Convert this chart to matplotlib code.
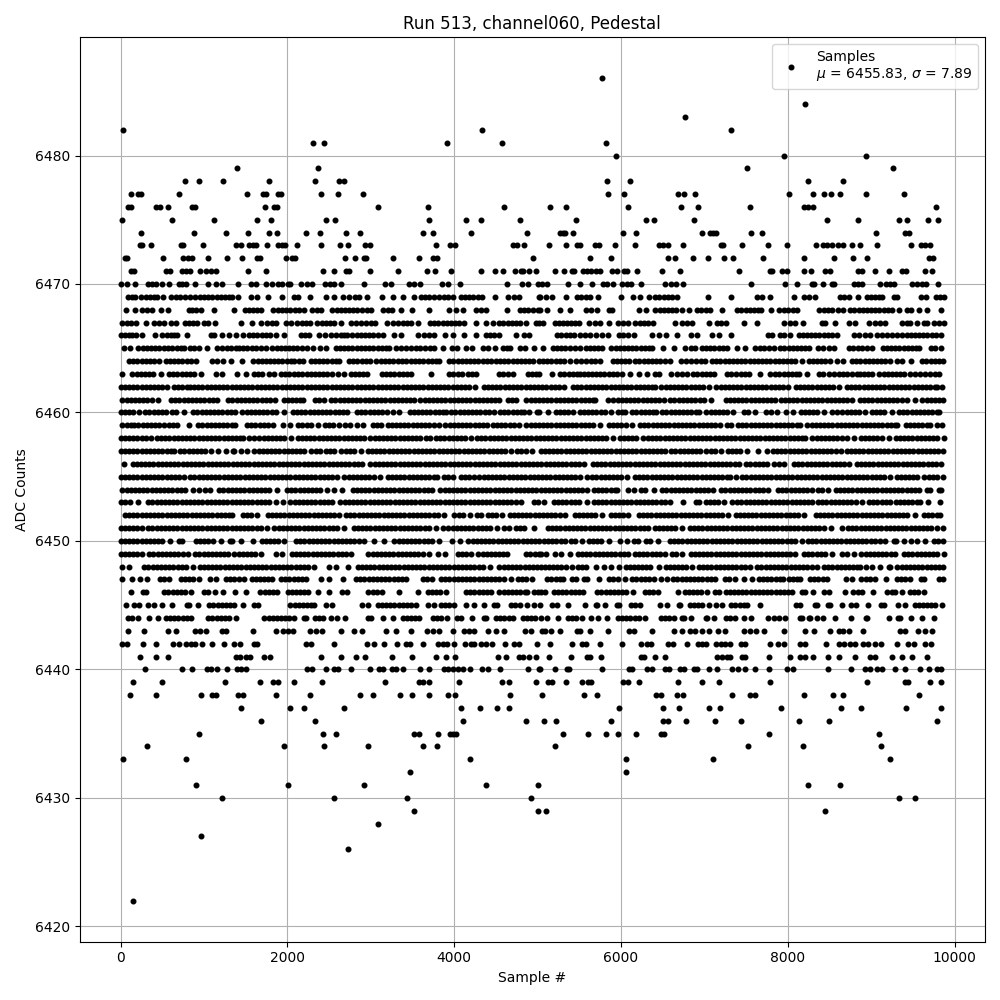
import matplotlib
matplotlib.use("Agg")
import matplotlib.pyplot as plt

# sample numbers, one list per ADC level
lvl_6486 = [5772]
lvl_6484 = [8208]
lvl_6483 = [6768]
lvl_6482 = [32, 4328, 7320]
lvl_6481 = [2312, 2444, 3908, 4568, 5820]
lvl_6480 = [5940, 7956, 8940]
lvl_6479 = [1400, 2372, 7512, 9264]
lvl_6478 = [776, 944, 1232, 1784, 2336, 2624, 2684, 5832, 6108, 8244, 8664]
lvl_6477 = [128, 212, 248, 704, 1520, 1712, 1748, 1892, 1928, 2408, 2612, 2912, 5844, 6036, 6684, 6756, 6888, 8016, 8304, 8436, 8520, 8628, 8940, 9396]
lvl_6476 = [92, 128, 428, 476, 572, 860, 896, 1736, 1844, 1880, 3080, 3680, 4592, 5148, 5340, 6084, 6720, 6924, 7548, 8196, 8244, 8304, 9780]
lvl_6475 = [20, 620, 1124, 1640, 1808, 2468, 2576, 3692, 4136, 4316, 4784, 5460, 6300, 6396, 6876, 8472, 8844, 9336, 9432, 9684, 9804]
lvl_6474 = [248, 884, 1268, 1532, 1784, 1880, 2228, 2396, 2708, 2876, 3620, 3740, 4196, 4868, 5268, 5304, 5328, 5424, 6024, 6180, 6972, 7068, 7104, 7140, 7560, 7692, 9060, 9408, 9456]
lvl_6473 = [236, 260, 368, 728, 752, 992, 1388, 1448, 1544, 1592, 1628, 1760, 1892, 1940, 1976, 2120, 2408, 2636, 2732, 2936, 2984, 3776, 3944, 4004, 4700, 4748, 4832, 5136, 5340, 5472, 5508, 5688, 5736, 5928, 6168, 6456, 6504, 6560, 6744, 7200, 7224, 7452, 7764, 7992, 8340, 8424, 8472, 8532, 8604, 8664, 8772, 8868, 9072, 9480, 9600, 9648, 9700]
lvl_6472 = [50, 80, 512, 752, 812, 860, 1052, 1280, 1460, 1640, 1676, 1988, 2052, 2088, 2696, 2816, 2924, 2948, 3260, 3572, 3740, 3788, 4944, 5628, 5880, 6564, 6648, 6864, 7044, 7236, 7344, 7704, 8196, 8556, 8784, 8952, 9696, 9744]
lvl_6471 = [128, 164, 548, 596, 740, 788, 836, 956, 1028, 1088, 1148, 1532, 1748, 2432, 2564, 2708, 2744, 2984, 3320, 3668, 3764, 3956, 4316, 4484, 4580, 4724, 4796, 4820, 4892, 4976, 5208, 5316, 5412, 5436, 5544, 5592, 5640, 5700, 5748, 5892, 5952, 6036, 6072, 6192, 6492, 6708, 7416, 7788, 7812, 7932, 7992, 8196, 8280, 8448, 8508, 8844, 8892, 9048, 9216, 9372, 9420, 9648, 9732]
lvl_6470 = [8, 80, 176, 332, 380, 428, 500, 584, 704, 740, 788, 896, 1052, 1148, 1220, 1412, 1568, 1628, 1748, 1820, 1892, 1940, 2012, 2036, 2168, 2240, 2300, 2456, 2516, 2564, 2648, 2924, 3164, 3236, 3452, 3512, 3584, 3848, 3920, 4064, 4628, 4808, 4880, 5000, 5052, 5112, 5360, 5508, 5652, 5784, 5832, 5904, 6012, 6072, 6120, 6240, 6528, 6600, 6660, 6744, 7560, 7964, 8112, 8292, 8316, 8424, 8532, 8556, 8796, 8844, 8892, 9108, 9180, 9228, 9276, 9492, 9552, 9612, 9660, 9804]
lvl_6469 = [92, 130, 172, 248, 308, 350, 400, 440, 512, 608, 668, 716, 770, 828, 896, 950, 1000, 1050, 1100, 1150, 1200, 1250, 1300, 1340, 1412, 1568, 1640, 1772, 1940, 2084, 2132, 2276, 2468, 2564, 2672, 2744, 2816, 2864, 2960, 3128, 3260, 3380, 3512, 3596, 3650, 3692, 3760, 3820, 3872, 3925, 3980, 4076, 4125, 4175, 4220, 4280, 4328, 4484, 4644, 4712, 4780, 5012, 5032, 5100, 5172, 5340, 5472, 5525, 5580, 5632, 5724, 6000, 6148, 6232, 6340, 6412, 6460, 6510, 6560, 6610, 6672, 7044, 7320, 7632, 7692, 7788, 8080, 8192, 8260, 8332, 8632, 8680, 8732, 8844, 8952, 9000, 9050, 9090, 9132, 9272, 9312, 9600, 9664, 9772, 9820, 9872]
lvl_6468 = [68, 176, 260, 320, 380, 480, 572, 820, 860, 908, 968, 1124, 1360, 1488, 1540, 1590, 1640, 1688, 1832, 1885, 1935, 1985, 2035, 2090, 2140, 2204, 2300, 2350, 2400, 2540, 2590, 2640, 2690, 2740, 2790, 2840, 2890, 2950, 3000, 3140, 3200, 3248, 3360, 3488, 3696, 3932, 4020, 4100, 4260, 4320, 4380, 4628, 4788, 4840, 4890, 4940, 5000, 5032, 5112, 5268, 5388, 5580, 5645, 5712, 5852, 5892, 6216, 6300, 6412, 6465, 6515, 6565, 6612, 6660, 6732, 6820, 6912, 6965, 7020, 7072, 7212, 7392, 7445, 7495, 7545, 7595, 7640, 7684, 7804, 7892, 7950, 8005, 8060, 8112, 8380, 8430, 8480, 8532, 8604, 8660, 8752, 8800, 8850, 8900, 8950, 9000, 9050, 9100, 9150, 9200, 9250, 9332, 9432, 9484, 9576, 9672, 9832]
lvl_6467 = [20, 70, 120, 188, 300, 400, 460, 520, 600, 660, 768, 820, 870, 920, 1000, 1052, 1136, 1448, 1580, 1680, 1760, 1820, 1868, 1980, 2040, 2120, 2170, 2220, 2268, 2360, 2410, 2460, 2510, 2560, 2640, 2760, 2820, 2880, 2940, 3000, 3052, 3188, 3260, 3320, 3380, 3430, 3480, 3560, 3708, 3760, 3810, 3860, 3910, 3960, 4010, 4060, 4120, 4260, 4376, 4460, 4540, 4590, 4640, 4690, 4740, 4788, 4860, 4976, 5012, 5068, 5204, 5255, 5305, 5355, 5405, 5450, 5492, 5612, 5692, 5752, 5852, 5964, 6025, 6084, 6172, 6225, 6275, 6330, 6380, 6648, 6732, 6790, 6852, 7052, 7152, 7205, 7260, 7476, 7632, 7960, 8025, 8092, 8184, 8412, 8452, 8568, 8732, 8812, 8980, 9052, 9110, 9172, 9372, 9425, 9472, 9552, 9632, 9672, 9752, 9812, 9872]
lvl_6466 = [0, 50, 100, 140, 180, 252, 408, 500, 550, 600, 640, 680, 800, 1080, 1120, 1220, 1300, 1388, 1472, 1540, 1590, 1640, 1690, 1740, 1790, 1860, 1964, 2160, 2210, 2260, 2380, 2450, 2520, 2580, 2640, 2680, 2720, 2780, 2830, 2880, 2930, 2980, 3030, 3085, 3140, 3272, 3356, 3560, 3640, 3695, 3752, 3884, 3980, 4120, 4260, 4380, 4430, 4480, 4540, 4736, 4840, 4900, 5232, 5285, 5335, 5385, 5435, 5512, 5564, 5632, 5700, 5772, 5844, 5972, 6030, 6090, 6152, 6372, 6460, 6540, 6672, 6844, 6912, 7092, 7172, 7324, 7764, 7812, 7912, 7952, 8028, 8132, 8180, 8230, 8280, 8330, 8380, 8430, 8480, 8530, 8592, 8792, 8860, 8925, 8992, 9072, 9130, 9190, 9250, 9312, 9372, 9425, 9475, 9525, 9575, 9625, 9675, 9725, 9772, 9840]
lvl_6465 = [40, 108, 212, 265, 315, 365, 415, 460, 520, 570, 620, 670, 720, 760, 828, 885, 940, 1040, 1160, 1215, 1270, 1325, 1380, 1420, 1470, 1520, 1570, 1620, 1680, 1740, 1820, 1870, 1920, 1970, 2020, 2070, 2120, 2180, 2240, 2308, 2385, 2460, 2580, 2630, 2680, 2730, 2780, 2830, 2880, 2930, 2980, 3030, 3080, 3130, 3180, 3220, 3300, 3360, 3420, 3480, 3540, 3595, 3650, 3705, 3760, 3860, 3972, 4028, 4140, 4212, 4340, 4400, 4488, 4588, 4630, 4668, 4788, 4852, 4952, 5068, 5180, 5230, 5280, 5330, 5392, 5452, 5512, 5580, 5630, 5680, 5730, 5772, 5884, 5935, 5985, 6035, 6085, 6135, 6185, 6235, 6285, 6335, 6372, 6500, 6632, 6772, 6835, 6892, 6972, 7020, 7070, 7120, 7170, 7220, 7272, 7392, 7484, 7612, 7665, 7720, 7775, 7832, 7912, 7960, 8010, 8060, 8110, 8160, 8205, 8252, 8364, 8425, 8490, 8552, 8732, 8785, 8840, 8895, 8950, 9012, 9140, 9190, 9240, 9290, 9340, 9390, 9440, 9490, 9540, 9572, 9712, 9770, 9832]
lvl_6464 = [100, 150, 200, 250, 300, 350, 400, 460, 540, 590, 640, 690, 740, 790, 840, 908, 1100, 1160, 1228, 1320, 1460, 1588, 1645, 1700, 1740, 1790, 1840, 1890, 1940, 1990, 2040, 2080, 2140, 2188, 2280, 2330, 2380, 2430, 2480, 2530, 2580, 2620, 2740, 2790, 2840, 2890, 2940, 2990, 3060, 3120, 3170, 3220, 3270, 3320, 3370, 3420, 3480, 3530, 3580, 3630, 3680, 3730, 3780, 3820, 3940, 3990, 4040, 4090, 4140, 4190, 4240, 4290, 4340, 4390, 4440, 4500, 4550, 4600, 4650, 4700, 4750, 4800, 4850, 4900, 4950, 5020, 5065, 5115, 5165, 5215, 5265, 5315, 5392, 5460, 5520, 5580, 5640, 5692, 5752, 5900, 5950, 6000, 6050, 6100, 6172, 6222, 6272, 6322, 6372, 6422, 6472, 6522, 6592, 6724, 6780, 6840, 6900, 6960, 7012, 7092, 7142, 7192, 7242, 7292, 7342, 7392, 7442, 7492, 7542, 7592, 7642, 7692, 7742, 7792, 7842, 7892, 7942, 7992, 8042, 8092, 8172, 8252, 8302, 8352, 8402, 8452, 8502, 8592, 8660, 8772, 8822, 8872, 8922, 8972, 9022, 9072, 9122, 9172, 9222, 9312, 9372, 9484, 9612, 9662, 9712, 9762, 9812, 9860]
lvl_6463 = [20, 140, 190, 240, 290, 340, 390, 480, 580, 630, 680, 730, 780, 830, 880, 968, 1148, 1220, 1400, 1508, 1600, 1650, 1700, 1780, 1844, 1920, 1970, 2020, 2080, 2130, 2180, 2230, 2280, 2330, 2380, 2430, 2480, 2540, 2608, 2680, 2760, 2810, 2860, 2910, 2960, 3132, 3182, 3232, 3282, 3332, 3382, 3432, 3480, 3716, 3940, 3990, 4040, 4090, 4160, 4212, 4260, 4540, 4590, 4640, 4700, 4880, 4930, 4980, 5020, 5172, 5272, 5322, 5372, 5422, 5472, 5512, 5552, 5602, 5652, 5702, 5752, 5802, 5852, 5902, 5952, 6012, 6112, 6212, 6312, 6412, 6452, 6600, 6672, 6735, 6792, 6860, 6912, 6972, 7020, 7070, 7112, 7272, 7325, 7380, 7435, 7490, 7532, 7672, 7792, 7850, 7900, 7950, 8000, 8050, 8100, 8132, 8232, 8372, 8425, 8490, 8552, 8612, 8665, 8715, 8770, 8825, 8872, 8912, 8960, 9012, 9092, 9150, 9200, 9250, 9300, 9350, 9392, 9472, 9530, 9592, 9652, 9705, 9760, 9812]
lvl_6462 = [0, 50, 100, 150, 200, 250, 300, 350, 400, 450, 500, 555, 640, 690, 740, 790, 830, 880, 930, 980, 1030, 1080, 1130, 1180, 1230, 1280, 1330, 1380, 1430, 1480, 1530, 1580, 1630, 1680, 1730, 1780, 1830, 1880, 1930, 1980, 2030, 2080, 2130, 2180, 2230, 2280, 2330, 2380, 2430, 2480, 2530, 2580, 2630, 2680, 2730, 2780, 2830, 2880, 2930, 2980, 3030, 3080, 3130, 3180, 3230, 3280, 3330, 3380, 3430, 3480, 3530, 3580, 3630, 3680, 3730, 3780, 3830, 3880, 3930, 3980, 4030, 4080, 4130, 4180, 4250, 4355, 4405, 4455, 4505, 4555, 4605, 4655, 4705, 4755, 4805, 4855, 4905, 4955, 5005, 5055, 5105, 5155, 5205, 5255, 5320, 5425, 5475, 5525, 5575, 5625, 5675, 5725, 5775, 5825, 5875, 5925, 5975, 6025, 6075, 6125, 6175, 6225, 6275, 6325, 6375, 6410, 6485, 6535, 6585, 6635, 6685, 6735, 6785, 6835, 6885, 6935, 6985, 7060, 7145, 7195, 7245, 7295, 7345, 7395, 7445, 7495, 7545, 7595, 7645, 7695, 7745, 7795, 7845, 7895, 7945, 8005, 8095, 8145, 8195, 8245, 8295, 8345, 8395, 8445, 8495, 8545, 8610, 8710, 8760, 8810, 8860, 8910, 8960, 9010, 9060, 9110, 9160, 9210, 9260, 9310, 9360, 9410, 9460, 9510, 9560, 9610, 9660, 9710, 9760, 9790, 9852]
lvl_6461 = [20, 70, 120, 170, 220, 270, 320, 370, 445, 605, 655, 705, 755, 805, 855, 905, 955, 1005, 1055, 1105, 1155, 1290, 1340, 1390, 1440, 1490, 1540, 1590, 1640, 1690, 1740, 1790, 1855, 1955, 2005, 2055, 2105, 2155, 2190, 2325, 2375, 2435, 2525, 2575, 2625, 2675, 2725, 2775, 2825, 2875, 2925, 2975, 3025, 3075, 3125, 3175, 3225, 3275, 3325, 3375, 3425, 3475, 3515, 3595, 3645, 3695, 3745, 3795, 3845, 3895, 3945, 3995, 4045, 4095, 4145, 4195, 4245, 4295, 4345, 4395, 4445, 4495, 4535, 4645, 4695, 4735, 4865, 4915, 4965, 5015, 5065, 5115, 5165, 5215, 5265, 5315, 5365, 5415, 5465, 5515, 5565, 5615, 5665, 5690, 5845, 5905, 5960, 6010, 6060, 6110, 6160, 6210, 6260, 6310, 6360, 6410, 6460, 6510, 6590, 6640, 6690, 6740, 6790, 6840, 6890, 6950, 6995, 7076, 7255, 7305, 7355, 7405, 7455, 7505, 7555, 7605, 7655, 7705, 7755, 7805, 7850, 7915, 7965, 8015, 8065, 8115, 8165, 8215, 8265, 8315, 8365, 8415, 8465, 8515, 8565, 8615, 8665, 8715, 8770, 8865, 8915, 8965, 9015, 9065, 9115, 9165, 9215, 9265, 9315, 9365, 9430, 9532, 9615, 9665, 9715, 9765, 9810, 9864]
lvl_6460 = [0, 50, 100, 150, 215, 295, 345, 395, 445, 495, 545, 615, 668, 764, 870, 920, 970, 1020, 1070, 1120, 1170, 1220, 1270, 1320, 1375, 1460, 1510, 1560, 1610, 1660, 1710, 1760, 1810, 1860, 1955, 2065, 2115, 2165, 2215, 2265, 2315, 2365, 2415, 2465, 2515, 2565, 2615, 2665, 2715, 2835, 2885, 2935, 2985, 3035, 3085, 3135, 3195, 3260, 3332, 3465, 3515, 3565, 3615, 3665, 3715, 3765, 3815, 3865, 3900, 3965, 4015, 4065, 4115, 4165, 4215, 4265, 4315, 4365, 4415, 4475, 4550, 4600, 4650, 4700, 4750, 4800, 4835, 4892, 4995, 5015, 5130, 5215, 5265, 5315, 5365, 5430, 5505, 5555, 5605, 5655, 5705, 5755, 5810, 5880, 5965, 6010, 6050, 6135, 6185, 6235, 6285, 6335, 6385, 6418, 6495, 6545, 6595, 6645, 6695, 6745, 6795, 6845, 6895, 6940, 7025, 7075, 7125, 7175, 7225, 7275, 7340, 7475, 7525, 7610, 7745, 7795, 7870, 7975, 8060, 8155, 8205, 8255, 8305, 8355, 8438, 8525, 8590, 8655, 8705, 8755, 8805, 8855, 8930, 9005, 9055, 9105, 9155, 9250, 9335, 9385, 9435, 9485, 9535, 9585, 9635, 9685, 9735, 9785, 9810]
lvl_6459 = [20, 70, 120, 160, 212, 265, 315, 365, 415, 465, 515, 575, 628, 680, 820, 930, 980, 1030, 1080, 1130, 1180, 1230, 1280, 1330, 1365, 1515, 1565, 1615, 1665, 1715, 1765, 1830, 1945, 2035, 2130, 2180, 2230, 2280, 2365, 2445, 2495, 2545, 2615, 2695, 2745, 2838, 2905, 3020, 3070, 3125, 3200, 3250, 3300, 3350, 3400, 3450, 3500, 3550, 3600, 3650, 3700, 3758, 3812, 3895, 3945, 3995, 4045, 4095, 4145, 4195, 4245, 4295, 4345, 4390, 4465, 4515, 4565, 4615, 4665, 4715, 4775, 4865, 4915, 4965, 5015, 5065, 5115, 5165, 5215, 5265, 5315, 5365, 5415, 5465, 5515, 5565, 5615, 5665, 5750, 5855, 5905, 5955, 6005, 6055, 6130, 6230, 6280, 6330, 6380, 6430, 6480, 6530, 6580, 6630, 6680, 6730, 6780, 6830, 6880, 6930, 6980, 7030, 7080, 7130, 7190, 7275, 7318, 7405, 7455, 7505, 7555, 7605, 7655, 7705, 7755, 7805, 7855, 7905, 7955, 8005, 8055, 8105, 8150, 8235, 8285, 8335, 8385, 8435, 8485, 8535, 8585, 8635, 8685, 8735, 8785, 8835, 8885, 8935, 8985, 9035, 9085, 9135, 9185, 9235, 9285, 9310, 9415, 9465, 9515, 9565, 9615, 9665, 9710, 9795, 9850]
lvl_6458 = [0, 50, 100, 150, 200, 250, 300, 358, 435, 485, 535, 585, 635, 685, 735, 785, 835, 885, 935, 985, 1035, 1085, 1135, 1185, 1235, 1285, 1335, 1385, 1435, 1470, 1535, 1598, 1663, 1713, 1763, 1813, 1863, 1913, 1963, 2038, 2123, 2173, 2223, 2273, 2323, 2373, 2423, 2473, 2523, 2573, 2623, 2673, 2723, 2773, 2823, 2873, 2918, 2995, 3045, 3095, 3145, 3195, 3245, 3295, 3345, 3395, 3445, 3495, 3545, 3595, 3658, 3708, 3783, 3833, 3883, 3933, 3983, 4033, 4083, 4133, 4198, 4275, 4325, 4375, 4425, 4475, 4525, 4575, 4625, 4675, 4725, 4775, 4825, 4875, 4925, 4975, 5025, 5075, 5125, 5175, 5225, 5275, 5325, 5375, 5425, 5475, 5525, 5575, 5625, 5675, 5725, 5775, 5825, 5900, 5985, 6035, 6085, 6135, 6185, 6262, 6322, 6372, 6422, 6472, 6522, 6572, 6622, 6672, 6722, 6772, 6822, 6872, 6922, 6972, 7022, 7072, 7122, 7172, 7222, 7272, 7322, 7372, 7422, 7472, 7522, 7572, 7622, 7672, 7722, 7772, 7822, 7872, 7922, 7972, 8022, 8072, 8122, 8172, 8210, 8295, 8345, 8395, 8445, 8495, 8545, 8595, 8645, 8710, 8796, 8875, 8925, 8975, 9025, 9075, 9125, 9210, 9295, 9345, 9395, 9445, 9495, 9545, 9595, 9645, 9695, 9745, 9795, 9868]
lvl_6457 = [0, 50, 100, 150, 200, 250, 300, 350, 400, 450, 500, 550, 600, 638, 715, 765, 815, 865, 915, 965, 1015, 1078, 1170, 1258, 1343, 1358, 1443, 1518, 1603, 1653, 1703, 1753, 1803, 1853, 1903, 1953, 2003, 2053, 2103, 2153, 2203, 2278, 2343, 2390, 2463, 2513, 2563, 2638, 2703, 2753, 2803, 2878, 2963, 3013, 3063, 3113, 3163, 3213, 3263, 3313, 3363, 3413, 3463, 3513, 3563, 3613, 3663, 3713, 3763, 3813, 3863, 3913, 3963, 4013, 4063, 4113, 4163, 4213, 4263, 4313, 4363, 4413, 4463, 4513, 4563, 4613, 4678, 4755, 4805, 4855, 4935, 5035, 5085, 5135, 5185, 5235, 5285, 5335, 5385, 5435, 5485, 5535, 5585, 5635, 5685, 5735, 5785, 5835, 5885, 5935, 5985, 6035, 6085, 6135, 6185, 6235, 6285, 6335, 6385, 6435, 6485, 6530, 6603, 6653, 6703, 6753, 6803, 6853, 6903, 6950, 7020, 7083, 7133, 7198, 7283, 7333, 7383, 7433, 7510, 7643, 7750, 7823, 7873, 7923, 7973, 8023, 8073, 8123, 8173, 8223, 8273, 8323, 8373, 8423, 8473, 8523, 8573, 8638, 8707, 8757, 8807, 8857, 8907, 8957, 9007, 9057, 9107, 9157, 9207, 9257, 9307, 9357, 9407, 9457, 9507, 9557, 9607, 9657, 9707, 9757, 9807, 9862]
lvl_6456 = [40, 143, 193, 243, 293, 343, 393, 443, 493, 543, 593, 643, 693, 743, 793, 843, 893, 943, 993, 1043, 1093, 1143, 1193, 1243, 1293, 1343, 1393, 1443, 1493, 1543, 1593, 1643, 1693, 1743, 1793, 1843, 1893, 1943, 1993, 2043, 2093, 2143, 2193, 2243, 2293, 2343, 2393, 2443, 2493, 2543, 2593, 2643, 2693, 2743, 2793, 2843, 2898, 2995, 3045, 3095, 3145, 3195, 3245, 3295, 3345, 3395, 3445, 3495, 3545, 3595, 3645, 3695, 3745, 3795, 3845, 3895, 3945, 3995, 4045, 4095, 4145, 4195, 4245, 4295, 4345, 4395, 4445, 4495, 4545, 4595, 4645, 4695, 4745, 4795, 4845, 4895, 4945, 4995, 5045, 5095, 5145, 5195, 5245, 5295, 5345, 5395, 5445, 5495, 5558, 5663, 5713, 5763, 5813, 5863, 5913, 5963, 6013, 6063, 6113, 6163, 6213, 6263, 6313, 6363, 6413, 6463, 6513, 6563, 6613, 6663, 6713, 6763, 6813, 6863, 6913, 6963, 7013, 7063, 7113, 7163, 7213, 7263, 7313, 7363, 7420, 7503, 7553, 7603, 7653, 7703, 7753, 7830, 7900, 7960, 8075, 8125, 8175, 8225, 8275, 8325, 8375, 8425, 8475, 8525, 8575, 8625, 8675, 8730, 8827, 8877, 8927, 8977, 9027, 9077, 9127, 9177, 9227, 9277, 9327, 9377, 9427, 9477, 9527, 9577, 9627, 9677, 9727, 9777, 9837]
lvl_6455 = [0, 50, 100, 150, 200, 250, 300, 350, 400, 450, 500, 550, 600, 650, 700, 765, 835, 885, 935, 985, 1035, 1085, 1135, 1185, 1235, 1285, 1335, 1385, 1435, 1485, 1535, 1585, 1635, 1685, 1735, 1785, 1835, 1885, 1935, 1985, 2035, 2085, 2135, 2185, 2235, 2285, 2335, 2385, 2435, 2485, 2535, 2598, 2683, 2733, 2783, 2833, 2883, 2933, 2983, 3033, 3108, 3203, 3253, 3303, 3353, 3403, 3453, 3503, 3553, 3603, 3653, 3703, 3753, 3798, 3875, 3925, 3990, 4083, 4133, 4183, 4238, 4303, 4353, 4403, 4453, 4503, 4553, 4603, 4653, 4703, 4753, 4803, 4853, 4903, 4953, 5003, 5053, 5103, 5153, 5203, 5253, 5303, 5353, 5403, 5453, 5510, 5592, 5655, 5705, 5755, 5805, 5855, 5905, 5955, 6005, 6078, 6167, 6217, 6267, 6317, 6367, 6417, 6467, 6517, 6567, 6617, 6667, 6717, 6767, 6817, 6867, 6917, 6967, 7017, 7067, 7117, 7167, 7217, 7267, 7310, 7380, 7455, 7505, 7555, 7605, 7655, 7705, 7755, 7805, 7855, 7905, 7955, 8005, 8055, 8105, 8155, 8205, 8255, 8305, 8355, 8405, 8455, 8505, 8555, 8605, 8655, 8705, 8755, 8805, 8855, 8905, 8955, 9005, 9055, 9105, 9155, 9230, 9307, 9357, 9407, 9457, 9507, 9550, 9632, 9695, 9745, 9795, 9862]
lvl_6454 = [20, 70, 120, 170, 220, 270, 320, 370, 420, 470, 520, 570, 620, 670, 720, 770, 870, 940, 1012, 1070, 1183, 1233, 1283, 1333, 1383, 1433, 1483, 1533, 1583, 1633, 1683, 1733, 1783, 1878, 1995, 2045, 2095, 2145, 2195, 2245, 2295, 2345, 2395, 2478, 2563, 2658, 2783, 2833, 2883, 2933, 2983, 3033, 3083, 3133, 3183, 3233, 3283, 3333, 3383, 3433, 3483, 3533, 3583, 3633, 3683, 3738, 3835, 3885, 3935, 3985, 4035, 4085, 4135, 4185, 4235, 4285, 4335, 4385, 4435, 4485, 4535, 4585, 4635, 4685, 4735, 4785, 4835, 4885, 4935, 4985, 5035, 5085, 5135, 5185, 5235, 5285, 5335, 5385, 5435, 5485, 5535, 5590, 5675, 5725, 5775, 5825, 5875, 5925, 5958, 6083, 6158, 6243, 6293, 6398, 6495, 6545, 6595, 6645, 6695, 6745, 6795, 6845, 6895, 6945, 6995, 7045, 7102, 7203, 7253, 7303, 7353, 7403, 7453, 7503, 7553, 7603, 7653, 7703, 7758, 7883, 7933, 7983, 8033, 8083, 8133, 8183, 8233, 8290, 8363, 8413, 8478, 8575, 8625, 8675, 8725, 8775, 8825, 8875, 8925, 8975, 9025, 9075, 9125, 9175, 9225, 9275, 9325, 9375, 9425, 9475, 9525, 9570, 9675, 9710, 9815, 9838]
lvl_6453 = [0, 50, 110, 212, 330, 380, 430, 480, 530, 580, 630, 680, 730, 780, 830, 880, 930, 980, 1030, 1080, 1130, 1180, 1230, 1280, 1330, 1380, 1430, 1480, 1530, 1580, 1630, 1680, 1730, 1780, 1858, 1952, 2035, 2085, 2135, 2185, 2235, 2285, 2335, 2385, 2435, 2485, 2538, 2635, 2685, 2735, 2785, 2835, 2885, 2935, 2985, 3035, 3085, 3135, 3185, 3235, 3285, 3335, 3385, 3435, 3485, 3535, 3585, 3635, 3685, 3735, 3785, 3835, 3885, 3935, 3985, 4035, 4085, 4135, 4185, 4235, 4285, 4335, 4385, 4435, 4485, 4535, 4585, 4635, 4685, 4735, 4798, 4955, 5000, 5078, 5195, 5245, 5295, 5345, 5395, 5445, 5495, 5590, 5675, 5725, 5775, 5825, 5875, 5925, 5975, 6025, 6075, 6125, 6175, 6225, 6275, 6325, 6375, 6425, 6475, 6525, 6590, 6740, 6895, 6930, 7015, 7065, 7115, 7165, 7230, 7332, 7395, 7445, 7495, 7545, 7595, 7645, 7695, 7745, 7795, 7845, 7895, 7945, 7995, 8045, 8095, 8145, 8195, 8245, 8290, 8363, 8413, 8463, 8513, 8563, 8613, 8663, 8713, 8763, 8813, 8890, 8975, 9025, 9075, 9125, 9175, 9230, 9295, 9345, 9395, 9445, 9495, 9545, 9590, 9684, 9828]
lvl_6452 = [50, 100, 150, 200, 250, 300, 350, 400, 450, 500, 550, 600, 650, 700, 750, 800, 850, 900, 950, 1000, 1050, 1100, 1150, 1200, 1250, 1300, 1338, 1463, 1513, 1563, 1630, 1763, 1813, 1863, 1913, 1963, 2013, 2063, 2113, 2163, 2213, 2263, 2313, 2363, 2413, 2463, 2513, 2563, 2618, 2703, 2753, 2803, 2853, 2903, 2953, 3003, 3053, 3103, 3153, 3203, 3253, 3303, 3353, 3403, 3453, 3503, 3553, 3603, 3653, 3703, 3753, 3803, 3878, 4003, 4053, 4103, 4190, 4275, 4318, 4403, 4453, 4503, 4578, 4663, 4713, 4763, 4813, 4863, 4913, 4963, 5013, 5063, 5113, 5163, 5213, 5263, 5330, 5443, 5493, 5543, 5593, 5643, 5693, 5770, 5875, 5925, 5975, 6025, 6090, 6215, 6265, 6315, 6365, 6415, 6465, 6515, 6565, 6615, 6665, 6715, 6765, 6815, 6865, 6915, 6965, 7015, 7065, 7115, 7165, 7215, 7278, 7375, 7425, 7475, 7525, 7575, 7625, 7675, 7725, 7775, 7825, 7875, 7925, 7975, 8025, 8075, 8125, 8190, 8335, 8385, 8435, 8485, 8535, 8585, 8635, 8685, 8735, 8785, 8835, 8885, 8935, 8985, 9035, 9085, 9135, 9185, 9235, 9285, 9335, 9385, 9435, 9530, 9635, 9685, 9735, 9785, 9830]
lvl_6451 = [0, 50, 100, 150, 200, 258, 330, 380, 430, 480, 530, 580, 630, 680, 730, 780, 830, 880, 930, 980, 1030, 1080, 1130, 1180, 1230, 1280, 1330, 1380, 1430, 1480, 1530, 1580, 1630, 1680, 1758, 1843, 1893, 1943, 1993, 2043, 2093, 2143, 2193, 2243, 2293, 2343, 2393, 2443, 2493, 2543, 2593, 2678, 2795, 2845, 2895, 2945, 2995, 3045, 3095, 3145, 3195, 3245, 3295, 3345, 3395, 3445, 3495, 3545, 3595, 3645, 3695, 3778, 3860, 3930, 3980, 4030, 4080, 4130, 4180, 4230, 4280, 4330, 4380, 4430, 4518, 4595, 4658, 4735, 4785, 4835, 4958, 5123, 5173, 5223, 5273, 5323, 5373, 5423, 5473, 5523, 5573, 5623, 5673, 5723, 5773, 5823, 5873, 5923, 5973, 6023, 6073, 6123, 6173, 6223, 6273, 6330, 6403, 6453, 6503, 6553, 6603, 6653, 6730, 6827, 6877, 6927, 6977, 7027, 7077, 7127, 7177, 7227, 7277, 7327, 7377, 7427, 7477, 7527, 7577, 7627, 7677, 7727, 7777, 7827, 7877, 7927, 7977, 8027, 8077, 8127, 8177, 8227, 8277, 8327, 8377, 8430, 8523, 8650, 8723, 8773, 8823, 8873, 8923, 8973, 9023, 9073, 9123, 9173, 9223, 9273, 9323, 9373, 9423, 9473, 9523, 9573, 9623, 9673, 9723, 9790, 9860]
lvl_6450 = [0, 50, 100, 150, 200, 250, 300, 350, 400, 450, 500, 590, 703, 738, 903, 953, 1003, 1053, 1103, 1198, 1315, 1338, 1440, 1588, 1690, 1740, 1790, 1840, 1890, 1958, 2103, 2153, 2203, 2253, 2303, 2353, 2403, 2453, 2503, 2553, 2603, 2653, 2703, 2753, 2803, 2853, 2918, 3043, 3158, 3283, 3333, 3383, 3433, 3483, 3533, 3583, 3633, 3683, 3733, 3818, 3972, 4068, 4170, 4220, 4270, 4320, 4370, 4420, 4470, 4520, 4570, 4620, 4670, 4720, 4770, 4820, 4870, 4920, 4970, 5012, 5075, 5125, 5175, 5225, 5275, 5330, 5403, 5453, 5530, 5615, 5665, 5715, 5765, 5862, 5987, 6070, 6155, 6210, 6295, 6345, 6438, 6587, 6637, 6687, 6737, 6787, 6837, 6887, 6937, 6987, 7037, 7087, 7137, 7187, 7237, 7287, 7337, 7387, 7437, 7487, 7537, 7587, 7637, 7687, 7737, 7787, 7837, 7887, 7937, 7987, 8037, 8087, 8170, 8243, 8293, 8343, 8393, 8443, 8493, 8543, 8593, 8643, 8693, 8743, 8793, 8843, 8893, 8943, 8993, 9043, 9110, 9172, 9275, 9302, 9392, 9484, 9552, 9644, 9755, 9805, 9862]
lvl_6449 = [0, 50, 100, 150, 200, 258, 343, 393, 443, 493, 543, 593, 643, 693, 743, 806, 895, 945, 995, 1045, 1095, 1145, 1195, 1245, 1286, 1363, 1413, 1463, 1513, 1563, 1613, 1678, 1860, 1940, 2051, 2101, 2151, 2201, 2251, 2301, 2351, 2401, 2451, 2501, 2551, 2601, 2651, 2701, 2758, 2971, 3021, 3071, 3121, 3171, 3221, 3271, 3321, 3371, 3421, 3471, 3521, 3571, 3621, 3698, 3803, 3886, 4043, 4093, 4143, 4198, 4291, 4341, 4391, 4441, 4491, 4541, 4591, 4630, 4863, 4913, 4963, 5013, 5035, 5102, 5212, 5284, 5392, 5483, 5533, 5583, 5633, 5683, 5733, 5783, 5833, 5883, 5933, 5983, 6033, 6090, 6167, 6217, 6267, 6317, 6367, 6417, 6467, 6530, 6615, 6665, 6730, 6835, 6885, 6935, 6985, 7035, 7085, 7135, 7185, 7235, 7285, 7335, 7385, 7435, 7485, 7535, 7585, 7635, 7685, 7735, 7785, 7835, 7885, 7935, 7985, 8030, 8092, 8195, 8245, 8295, 8345, 8395, 8445, 8530, 8655, 8705, 8790, 8883, 8933, 8983, 9033, 9083, 9133, 9183, 9233, 9290, 9395, 9445, 9495, 9545, 9595, 9645, 9695, 9745, 9795, 9870]
lvl_6448 = [20, 100, 283, 333, 383, 433, 483, 533, 583, 633, 683, 733, 783, 870, 947, 997, 1047, 1097, 1147, 1197, 1247, 1297, 1347, 1397, 1447, 1497, 1547, 1597, 1647, 1697, 1747, 1797, 1847, 1897, 1947, 1997, 2047, 2097, 2147, 2197, 2247, 2318, 2500, 2588, 2732, 2843, 2893, 2943, 2993, 3043, 3093, 3143, 3193, 3243, 3293, 3343, 3393, 3443, 3493, 3543, 3593, 3643, 3693, 3743, 3793, 3843, 3893, 3943, 3993, 4043, 4093, 4143, 4193, 4243, 4293, 4343, 4430, 4543, 4593, 4643, 4693, 4743, 4793, 4843, 4893, 4943, 4993, 5035, 5085, 5135, 5185, 5235, 5285, 5335, 5410, 5483, 5533, 5583, 5702, 5792, 5883, 5982, 6055, 6105, 6155, 6205, 6255, 6305, 6350, 6450, 6535, 6585, 6635, 6685, 6735, 6785, 6850, 6935, 6985, 7035, 7085, 7135, 7185, 7235, 7285, 7335, 7385, 7435, 7485, 7550, 7635, 7685, 7735, 7785, 7835, 7885, 7935, 7985, 8035, 8085, 8135, 8185, 8235, 8285, 8350, 8435, 8485, 8535, 8585, 8635, 8685, 8735, 8785, 8835, 8870, 8940, 9015, 9110, 9215, 9230, 9315, 9365, 9415, 9465, 9515, 9565, 9615, 9665, 9715, 9765, 9815, 9862]
lvl_6447 = [20, 132, 228, 320, 475, 525, 578, 723, 773, 823, 873, 938, 1075, 1138, 1263, 1313, 1363, 1413, 1478, 1571, 1621, 1671, 1721, 1771, 1818, 1923, 1973, 2023, 2073, 2123, 2173, 2218, 2403, 2498, 2668, 2823, 2873, 2923, 2973, 3023, 3073, 3123, 3173, 3223, 3273, 3323, 3373, 3418, 3623, 3673, 3738, 3843, 3893, 3943, 3993, 4043, 4093, 4143, 4193, 4243, 4293, 4343, 4393, 4443, 4493, 4543, 4593, 4678, 4763, 4813, 4858, 4932, 5115, 5165, 5215, 5265, 5310, 5415, 5462, 5555, 5590, 5740, 5855, 5905, 5970, 6052, 6135, 6185, 6235, 6285, 6335, 6390, 6483, 6550, 6627, 6677, 6727, 6777, 6827, 6877, 6927, 6977, 7027, 7077, 7130, 7243, 7293, 7370, 7472, 7572, 7655, 7705, 7755, 7805, 7855, 7905, 7942, 8015, 8065, 8115, 8150, 8267, 8317, 8367, 8417, 8470, 8695, 8770, 8883, 8933, 8983, 9050, 9180, 9307, 9357, 9407, 9470, 9595, 9638, 9815, 9862]
lvl_6446 = [120, 263, 298, 523, 573, 623, 673, 723, 773, 838, 1003, 1053, 1126, 1228, 1372, 1500, 1675, 1725, 1775, 1825, 1878, 2003, 2053, 2103, 2153, 2203, 2246, 2372, 2500, 2651, 2718, 2971, 3021, 3071, 3138, 3340, 3560, 3683, 3733, 3783, 3833, 3898, 4143, 4193, 4243, 4293, 4343, 4393, 4438, 4543, 4593, 4643, 4693, 4743, 4793, 4843, 4878, 4960, 5010, 5035, 5090, 5195, 5245, 5295, 5345, 5395, 5445, 5495, 5550, 5715, 5765, 5815, 5865, 5915, 5965, 6015, 6065, 6150, 6283, 6333, 6383, 6438, 6684, 6763, 6813, 6863, 6913, 6963, 7030, 7123, 7170, 7255, 7305, 7355, 7405, 7455, 7505, 7555, 7605, 7655, 7705, 7755, 7805, 7855, 7905, 7955, 8005, 8050, 8172, 8212, 8300, 8435, 8490, 8692, 8787, 8837, 8890, 9020, 9195, 9245, 9290, 9372, 9467, 9517, 9567, 9630]
lvl_6445 = [68, 163, 218, 323, 398, 492, 620, 795, 818, 930, 1063, 1113, 1163, 1213, 1263, 1313, 1358, 1468, 1603, 1646, 2035, 2085, 2135, 2185, 2235, 2285, 2318, 2460, 2540, 2900, 2972, 3083, 3133, 3183, 3233, 3283, 3333, 3383, 3433, 3483, 3538, 3680, 3752, 3843, 3893, 3943, 3998, 4143, 4238, 4352, 4483, 4518, 4683, 4733, 4783, 4878, 4960, 5032, 5172, 5232, 5364, 5572, 5695, 5710, 5804, 5955, 5982, 6123, 6173, 6230, 6468, 6552, 6695, 6710, 6823, 6873, 6923, 6970, 7060, 7135, 7210, 7323, 7373, 7423, 7473, 7510, 7668, 8095, 8150, 8323, 8350, 8483, 8510, 8652, 8755, 8822, 8964, 9115, 9150, 9323, 9410, 9523, 9573, 9623, 9673, 9723, 9770, 9852]
lvl_6444 = [90, 130, 212, 344, 452, 543, 593, 643, 693, 743, 793, 838, 1051, 1101, 1151, 1201, 1251, 1301, 1378, 1723, 1773, 1823, 1873, 1923, 1973, 2023, 2078, 2203, 2218, 2331, 2381, 2430, 2520, 2600, 2688, 2963, 3006, 3140, 3260, 3383, 3433, 3483, 3533, 3578, 3743, 3793, 3843, 3918, 4035, 4078, 4212, 4363, 4378, 4503, 4553, 4603, 4653, 4710, 4823, 4873, 4923, 4973, 5035, 5110, 5240, 5363, 5413, 5463, 5530, 5640, 5724, 5832, 5963, 6013, 6063, 6113, 6163, 6213, 6290, 6475, 6525, 6575, 6630, 6735, 6750, 6840, 7015, 7030, 7116, 7255, 7305, 7370, 7476, 7560, 7764, 7836, 7900, 7972, 8147, 8170, 8255, 8270, 8356, 8424, 8568, 8760, 8935, 8950, 9216, 9323, 9350, 9480, 9612, 9752]
lvl_6443 = [92, 284, 572, 668, 896, 956, 1028, 1220, 1268, 1588, 1868, 1952, 2012, 2072, 2276, 2340, 2420, 2640, 2804, 2900, 3176, 3296, 3476, 3668, 3740, 3812, 3980, 4120, 4180, 4240, 4400, 4500, 4600, 4852, 4920, 5052, 5092, 5160, 5268, 5472, 5512, 5628, 5844, 6092, 6152, 6372, 6640, 6732, 6832, 6892, 6972, 7052, 7164, 7252, 7472, 7552, 7620, 7716, 7956, 8204, 8316, 8508, 8612, 8660, 8740, 8904, 9352, 9412, 9564, 9644, 9724]
lvl_6442 = [20, 80, 272, 428, 632, 704, 788, 848, 892, 980, 1100, 1244, 1364, 1436, 1600, 1640, 2228, 2288, 2560, 2960, 3032, 3152, 3308, 3420, 3468, 3620, 3800, 3860, 3908, 4000, 4128, 4200, 4240, 4320, 4380, 4448, 4604, 4712, 4772, 4988, 5152, 5412, 5532, 5580, 5748, 6008, 6240, 6312, 6360, 6564, 6624, 6792, 6924, 6972, 7024, 7140, 7204, 7252, 7308, 7440, 7492, 7788, 7884, 7960, 8144, 8212, 8460, 8612, 8672, 8752, 8812, 8904, 8964, 9048, 9120, 9312, 9444, 9512, 9652, 9712]
lvl_6441 = [236, 428, 572, 1388, 1428, 1500, 1548, 1724, 1796, 2408, 2648, 2828, 2936, 3248, 3488, 3780, 3900, 4004, 4520, 4620, 4772, 4820, 4892, 4980, 5136, 5400, 5592, 5632, 5760, 6240, 6272, 6412, 6528, 7152, 7212, 7272, 7312, 7452, 7492, 7776, 8028, 8152, 8204, 8304, 8484, 8612, 8812, 8992, 9044, 9252, 9372, 9492, 9672]
lvl_6440 = [296, 740, 860, 1040, 1088, 1160, 1280, 1400, 1440, 1508, 2240, 2300, 2468, 2564, 2612, 2768, 2984, 3092, 3140, 3248, 3300, 3380, 3584, 3692, 3872, 3920, 3980, 4040, 4100, 4184, 4328, 4400, 4544, 4880, 5012, 5032, 5212, 5352, 5380, 5772, 6092, 6132, 6312, 6372, 6524, 6580, 6712, 6760, 6872, 6912, 7056, 7152, 7332, 7400, 7488, 7608, 7776, 7988, 8064, 8484, 8760, 8928, 8988, 9072, 9132, 9288, 9408, 9588, 9696, 9792, 9832]
lvl_6439 = [152, 500, 1256, 1676, 1832, 1892, 2084, 2420, 3164, 3572, 3620, 3692, 4052, 4572, 4652, 4976, 5120, 5172, 5340, 5532, 5604, 5640, 6024, 6084, 6216, 6684, 6972, 7176, 7788, 8952, 9412, 9444, 9708, 9840]
lvl_6438 = [116, 428, 968, 1100, 1140, 1412, 1464, 1868, 2268, 2876, 3020, 3344, 3488, 3692, 3920, 4004, 4664, 5052, 5556, 5712, 6420, 6480, 6672, 6744, 7332, 7552, 7604, 8196, 8544, 8664, 9576]
lvl_6437 = [1448, 2036, 2204, 2684, 4076, 4304, 4508, 4652, 5976, 6500, 6700, 7056, 7188, 7920, 8640, 8880, 9420, 9840]
lvl_6436 = [1688, 2336, 4100, 4856, 5076, 5220, 5880, 6504, 6564, 6780, 7128, 7440, 8136, 8496, 9792]
lvl_6435 = [944, 2432, 2588, 3512, 3572, 3800, 3944, 3980, 4020, 5304, 5604, 5820, 5964, 6180, 6480, 6516, 7776, 9096]
lvl_6434 = [320, 1964, 2444, 2972, 3620, 3788, 5208, 7524, 8184, 9120]
lvl_6433 = [32, 788, 4184, 6060, 7104, 9228]
lvl_6432 = [3464, 6060]
lvl_6431 = [908, 2012, 2924, 4376, 5000, 8244, 8628]
lvl_6430 = [1220, 2564, 3428, 4916, 9336, 9528]
lvl_6429 = [3512, 5000, 5100, 8448]
lvl_6428 = [3080]
lvl_6427 = [968]
lvl_6426 = [2732]
lvl_6422 = [152]

levels = [6486, 6484, 6483, 6482, 6481, 6480, 6479, 6478, 6477, 6476, 6475, 6474, 6473, 6472, 6471, 6470, 6469, 6468, 6467, 6466, 6465, 6464, 6463, 6462, 6461, 6460, 6459, 6458, 6457, 6456, 6455, 6454, 6453, 6452, 6451, 6450, 6449, 6448, 6447, 6446, 6445, 6444, 6443, 6442, 6441, 6440, 6439, 6438, 6437, 6436, 6435, 6434, 6433, 6432, 6431, 6430, 6429, 6428, 6427, 6426, 6422]
samples = [lvl_6486, lvl_6484, lvl_6483, lvl_6482, lvl_6481, lvl_6480, lvl_6479, lvl_6478, lvl_6477, lvl_6476, lvl_6475, lvl_6474, lvl_6473, lvl_6472, lvl_6471, lvl_6470, lvl_6469, lvl_6468, lvl_6467, lvl_6466, lvl_6465, lvl_6464, lvl_6463, lvl_6462, lvl_6461, lvl_6460, lvl_6459, lvl_6458, lvl_6457, lvl_6456, lvl_6455, lvl_6454, lvl_6453, lvl_6452, lvl_6451, lvl_6450, lvl_6449, lvl_6448, lvl_6447, lvl_6446, lvl_6445, lvl_6444, lvl_6443, lvl_6442, lvl_6441, lvl_6440, lvl_6439, lvl_6438, lvl_6437, lvl_6436, lvl_6435, lvl_6434, lvl_6433, lvl_6432, lvl_6431, lvl_6430, lvl_6429, lvl_6428, lvl_6427, lvl_6426, lvl_6422]

mean_adc = 6455.83
std_adc = 7.89

x = []
y = []
for level, xs in zip(levels, samples):
    x.extend(xs)
    y.extend([level] * len(xs))

fig, ax = plt.subplots(figsize=(10, 10), dpi=100)
ax.plot(x, y, 'k.', ms=6.6, label=f"Samples\n$\\mu$ = {mean_adc:.2f}, $\\sigma$ = {std_adc:.2f}")
ax.set_title("Run 513, channel060, Pedestal")
ax.set_xlabel("Sample #")
ax.set_ylabel("ADC Counts")
ax.grid(True)
ax.legend(loc="upper right")
fig.tight_layout()
fig.savefig("out.png")
